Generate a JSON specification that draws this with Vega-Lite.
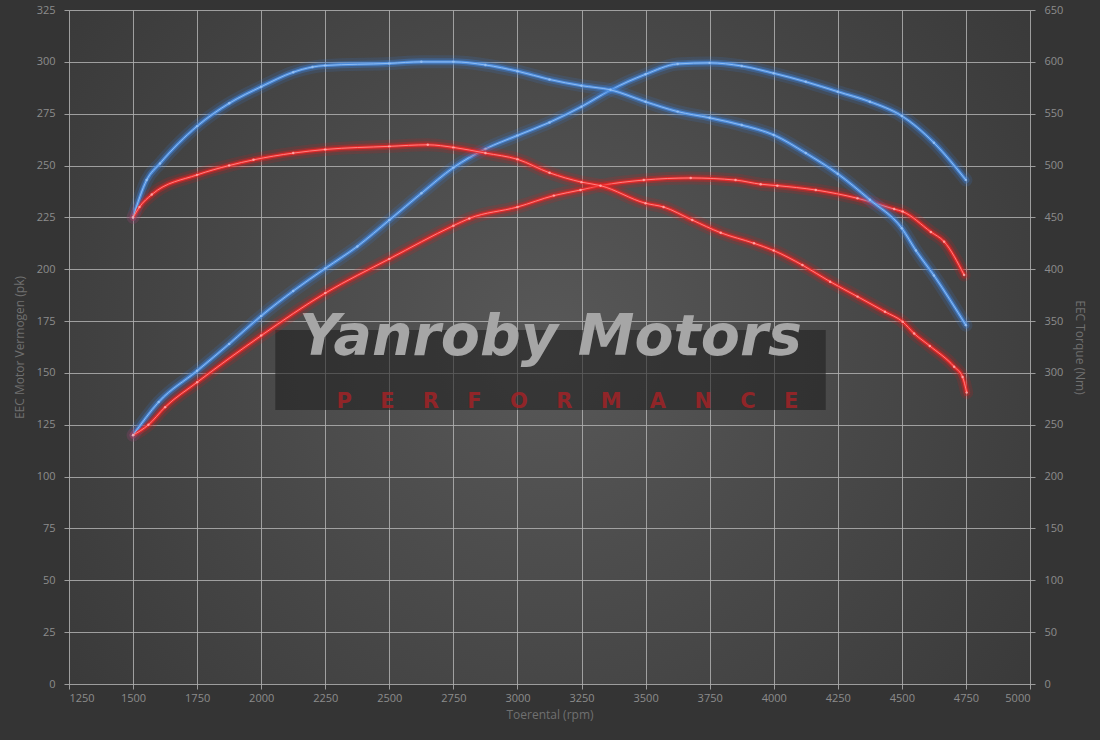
{
  "$schema": "https://vega.github.io/schema/vega-lite/v6.json",
  "width": 961,
  "height": 674,
  "autosize": "none",
  "padding": {"left": 69, "right": 70, "top": 10, "bottom": 56},
  "background": "#343434",
  "config": {
    "view": {
      "stroke": null,
      "fill": {
        "gradient": "radial",
        "x1": 0.5, "y1": 0.5, "r1": 0,
        "x2": 0.5, "y2": 0.5, "r2": 0.75,
        "stops": [
          {"offset": 0, "color": "#585858"},
          {"offset": 1, "color": "#333333"}
        ]
      }
    },
    "axis": {
      "domain": false,
      "gridColor": "#b0b0b0",
      "gridOpacity": 0.85,
      "gridWidth": 1,
      "tickColor": "#b0b0b0",
      "tickOpacity": 0.85,
      "tickSize": 5,
      "labelColor": "#8c8c8c",
      "labelFont": "Open Sans",
      "labelFontSize": 11,
      "titleColor": "#707070",
      "titleFont": "Open Sans",
      "titleFontSize": 12,
      "titleFontWeight": "normal"
    }
  },
  "datasets": {
    "power": [
      {"rpm": 1500, "pk": 120, "tune": "Tuned"},
      {"rpm": 1600, "pk": 136, "tune": "Tuned"},
      {"rpm": 1750, "pk": 151, "tune": "Tuned"},
      {"rpm": 1875, "pk": 164, "tune": "Tuned"},
      {"rpm": 2000, "pk": 177.5, "tune": "Tuned"},
      {"rpm": 2125, "pk": 189.5, "tune": "Tuned"},
      {"rpm": 2250, "pk": 200.4, "tune": "Tuned"},
      {"rpm": 2375, "pk": 211, "tune": "Tuned"},
      {"rpm": 2500, "pk": 223.7, "tune": "Tuned"},
      {"rpm": 2625, "pk": 236.6, "tune": "Tuned"},
      {"rpm": 2750, "pk": 249, "tune": "Tuned"},
      {"rpm": 2875, "pk": 258, "tune": "Tuned"},
      {"rpm": 3000, "pk": 264.5, "tune": "Tuned"},
      {"rpm": 3125, "pk": 270.8, "tune": "Tuned"},
      {"rpm": 3250, "pk": 278.4, "tune": "Tuned"},
      {"rpm": 3363, "pk": 286.4, "tune": "Tuned"},
      {"rpm": 3500, "pk": 294, "tune": "Tuned"},
      {"rpm": 3625, "pk": 299, "tune": "Tuned"},
      {"rpm": 3750, "pk": 299.5, "tune": "Tuned"},
      {"rpm": 3875, "pk": 298, "tune": "Tuned"},
      {"rpm": 4000, "pk": 294.5, "tune": "Tuned"},
      {"rpm": 4125, "pk": 290.4, "tune": "Tuned"},
      {"rpm": 4250, "pk": 285.6, "tune": "Tuned"},
      {"rpm": 4375, "pk": 280.8, "tune": "Tuned"},
      {"rpm": 4500, "pk": 273.9, "tune": "Tuned"},
      {"rpm": 4625, "pk": 261, "tune": "Tuned"},
      {"rpm": 4750, "pk": 243, "tune": "Tuned"},
      {"rpm": 1500, "pk": 120, "tune": "Stock"},
      {"rpm": 1560, "pk": 125, "tune": "Stock"},
      {"rpm": 1625, "pk": 133.5, "tune": "Stock"},
      {"rpm": 1750, "pk": 145.5, "tune": "Stock"},
      {"rpm": 2000, "pk": 168, "tune": "Stock"},
      {"rpm": 2250, "pk": 188.5, "tune": "Stock"},
      {"rpm": 2500, "pk": 205, "tune": "Stock"},
      {"rpm": 2750, "pk": 221, "tune": "Stock"},
      {"rpm": 2812, "pk": 224.5, "tune": "Stock"},
      {"rpm": 3000, "pk": 230, "tune": "Stock"},
      {"rpm": 3142, "pk": 235.5, "tune": "Stock"},
      {"rpm": 3246, "pk": 238.2, "tune": "Stock"},
      {"rpm": 3324, "pk": 240.3, "tune": "Stock"},
      {"rpm": 3493, "pk": 243, "tune": "Stock"},
      {"rpm": 3676, "pk": 244, "tune": "Stock"},
      {"rpm": 3851, "pk": 243, "tune": "Stock"},
      {"rpm": 3949, "pk": 241, "tune": "Stock"},
      {"rpm": 4014, "pk": 240.3, "tune": "Stock"},
      {"rpm": 4164, "pk": 238.2, "tune": "Stock"},
      {"rpm": 4327, "pk": 234.2, "tune": "Stock"},
      {"rpm": 4470, "pk": 229, "tune": "Stock"},
      {"rpm": 4503, "pk": 227.8, "tune": "Stock"},
      {"rpm": 4613, "pk": 218, "tune": "Stock"},
      {"rpm": 4665, "pk": 213.3, "tune": "Stock"},
      {"rpm": 4743, "pk": 197.2, "tune": "Stock"}
    ],
    "torque": [
      {"rpm": 1500, "nm": 450, "tune": "Tuned"},
      {"rpm": 1553, "nm": 486, "tune": "Tuned"},
      {"rpm": 1605, "nm": 502, "tune": "Tuned"},
      {"rpm": 1750, "nm": 538, "tune": "Tuned"},
      {"rpm": 1875, "nm": 560, "tune": "Tuned"},
      {"rpm": 2000, "nm": 576, "tune": "Tuned"},
      {"rpm": 2125, "nm": 590, "tune": "Tuned"},
      {"rpm": 2200, "nm": 595, "tune": "Tuned"},
      {"rpm": 2250, "nm": 596.5, "tune": "Tuned"},
      {"rpm": 2500, "nm": 598.5, "tune": "Tuned"},
      {"rpm": 2625, "nm": 600, "tune": "Tuned"},
      {"rpm": 2750, "nm": 600, "tune": "Tuned"},
      {"rpm": 2875, "nm": 597, "tune": "Tuned"},
      {"rpm": 3000, "nm": 591, "tune": "Tuned"},
      {"rpm": 3125, "nm": 583, "tune": "Tuned"},
      {"rpm": 3250, "nm": 577, "tune": "Tuned"},
      {"rpm": 3363, "nm": 573, "tune": "Tuned"},
      {"rpm": 3500, "nm": 561.5, "tune": "Tuned"},
      {"rpm": 3625, "nm": 552, "tune": "Tuned"},
      {"rpm": 3750, "nm": 546, "tune": "Tuned"},
      {"rpm": 3875, "nm": 539, "tune": "Tuned"},
      {"rpm": 4000, "nm": 529.5, "tune": "Tuned"},
      {"rpm": 4125, "nm": 512, "tune": "Tuned"},
      {"rpm": 4250, "nm": 492, "tune": "Tuned"},
      {"rpm": 4375, "nm": 467, "tune": "Tuned"},
      {"rpm": 4500, "nm": 439.5, "tune": "Tuned"},
      {"rpm": 4555, "nm": 418, "tune": "Tuned"},
      {"rpm": 4625, "nm": 394, "tune": "Tuned"},
      {"rpm": 4750, "nm": 346, "tune": "Tuned"},
      {"rpm": 1500, "nm": 450, "tune": "Stock"},
      {"rpm": 1525, "nm": 460, "tune": "Stock"},
      {"rpm": 1573, "nm": 472, "tune": "Stock"},
      {"rpm": 1750, "nm": 491, "tune": "Stock"},
      {"rpm": 1875, "nm": 500, "tune": "Stock"},
      {"rpm": 1970, "nm": 505.5, "tune": "Stock"},
      {"rpm": 2125, "nm": 512, "tune": "Stock"},
      {"rpm": 2250, "nm": 515.5, "tune": "Stock"},
      {"rpm": 2500, "nm": 518.5, "tune": "Stock"},
      {"rpm": 2650, "nm": 520, "tune": "Stock"},
      {"rpm": 2750, "nm": 517.5, "tune": "Stock"},
      {"rpm": 2875, "nm": 512, "tune": "Stock"},
      {"rpm": 3000, "nm": 506, "tune": "Stock"},
      {"rpm": 3125, "nm": 493, "tune": "Stock"},
      {"rpm": 3250, "nm": 484, "tune": "Stock"},
      {"rpm": 3324, "nm": 480.6, "tune": "Stock"},
      {"rpm": 3500, "nm": 463.6, "tune": "Stock"},
      {"rpm": 3570, "nm": 460, "tune": "Stock"},
      {"rpm": 3682, "nm": 447.4, "tune": "Stock"},
      {"rpm": 3793, "nm": 435.2, "tune": "Stock"},
      {"rpm": 3923, "nm": 425, "tune": "Stock"},
      {"rpm": 4000, "nm": 418, "tune": "Stock"},
      {"rpm": 4112, "nm": 404, "tune": "Stock"},
      {"rpm": 4220, "nm": 388, "tune": "Stock"},
      {"rpm": 4327, "nm": 373.6, "tune": "Stock"},
      {"rpm": 4434, "nm": 359, "tune": "Stock"},
      {"rpm": 4503, "nm": 349.4, "tune": "Stock"},
      {"rpm": 4548, "nm": 338, "tune": "Stock"},
      {"rpm": 4609, "nm": 326, "tune": "Stock"},
      {"rpm": 4704, "nm": 306, "tune": "Stock"},
      {"rpm": 4737, "nm": 296, "tune": "Stock"},
      {"rpm": 4753, "nm": 281, "tune": "Stock"}
    ]
  },
  "layer": [
    {
      "layer": [
        {
          "data": {"values": [{}]},
          "mark": {"type": "rect", "fill": "#222222", "opacity": 0.6},
          "encoding": {
            "x": {"datum": 2055, "type": "quantitative", "scale": {"domain": [1250, 5000], "nice": false}, "axis": {"values": [1250,1500,1750,2000,2250,2500,2750,3000,3250,3500,3750,4000,4250,4500,4750,5000], "format": "d", "title": "Toerental (rpm)", "labelPadding": 3, "titlePadding": 6, "grid": true}},
            "x2": {"datum": 4203},
            "y": {"datum": 170.7, "type": "quantitative", "scale": {"domain": [0, 325], "nice": false}, "axis": {"values": [0,25,50,75,100,125,150,175,200,225,250,275,300,325], "title": "EEC Motor Vermogen (pk)", "orient": "left", "labelPadding": 9, "titlePadding": 10, "grid": true}},
            "y2": {"datum": 132.1}
          }
        },
        {
          "data": {"values": [{}]},
          "mark": {"type": "text", "text": "Yanroby Motors", "font": "DejaVu Sans", "fontSize": 57, "fontWeight": "bold", "fontStyle": "italic", "fill": "#a6a6a6", "align": "center", "baseline": "alphabetic"},
          "encoding": {
            "x": {"datum": 3129, "type": "quantitative"},
            "y": {"datum": 158.6, "type": "quantitative"}
          }
        },
        {
          "data": {"values": [{}]},
          "mark": {"type": "text", "text": "P\u2003 E\u2003 R\u2003 F\u2003 O\u2003 R\u2003 M\u2003 A\u2003 N\u2003 C\u2003 E", "font": "DejaVu Sans", "fontSize": 21, "fontWeight": "bold", "fill": "#a82226", "opacity": 0.8, "align": "center", "baseline": "alphabetic"},
          "encoding": {
            "x": {"datum": 3195, "type": "quantitative"},
            "y": {"datum": 133.1, "type": "quantitative"}
          }
        },
        {
          "data": {"name": "power"},
          "mark": {"type": "line", "interpolate": "monotone", "strokeWidth": 13, "opacity": 0.16, "strokeCap": "round"},
          "encoding": {
            "x": {"field": "rpm", "type": "quantitative"},
            "y": {"field": "pk", "type": "quantitative"},
            "color": {"field": "tune", "type": "nominal", "scale": {"domain": ["Tuned", "Stock"], "range": ["#3a7fd8", "#e01818"]}, "legend": null}
          }
        },
        {
          "data": {"name": "power"},
          "mark": {"type": "line", "interpolate": "monotone", "strokeWidth": 7, "opacity": 0.35, "strokeCap": "round"},
          "encoding": {
            "x": {"field": "rpm", "type": "quantitative"},
            "y": {"field": "pk", "type": "quantitative"},
            "color": {"field": "tune", "type": "nominal", "scale": {"domain": ["Tuned", "Stock"], "range": ["#3a82dc", "#e81c1c"]}, "legend": null}
          }
        },
        {
          "data": {"name": "power"},
          "mark": {"type": "line", "interpolate": "monotone", "strokeWidth": 3.2, "opacity": 0.85},
          "encoding": {
            "x": {"field": "rpm", "type": "quantitative"},
            "y": {"field": "pk", "type": "quantitative"},
            "color": {"field": "tune", "type": "nominal", "scale": {"domain": ["Tuned", "Stock"], "range": ["#4f92e6", "#f42a2a"]}, "legend": null}
          }
        },
        {
          "data": {"name": "power"},
          "mark": {"type": "line", "interpolate": "monotone", "strokeWidth": 1},
          "encoding": {
            "x": {"field": "rpm", "type": "quantitative"},
            "y": {"field": "pk", "type": "quantitative"},
            "color": {"field": "tune", "type": "nominal", "scale": {"domain": ["Tuned", "Stock"], "range": ["#8ebcf2", "#ff8080"]}, "legend": null}
          }
        },
        {
          "data": {"name": "power"},
          "mark": {"type": "point", "filled": true, "size": 6, "opacity": 0.8},
          "encoding": {
            "x": {"field": "rpm", "type": "quantitative"},
            "y": {"field": "pk", "type": "quantitative"},
            "color": {"field": "tune", "type": "nominal", "scale": {"domain": ["Tuned", "Stock"], "range": ["#9cc4f4", "#ffb0b0"]}, "legend": null}
          }
        }
      ],
      "resolve": {"scale": {"color": "independent"}}
    },
    {
      "data": {"name": "torque"},
      "layer": [
        {
          "mark": {"type": "line", "interpolate": "monotone", "strokeWidth": 13, "opacity": 0.16, "strokeCap": "round"},
          "encoding": {
            "x": {"field": "rpm", "type": "quantitative", "scale": {"domain": [1250, 5000], "nice": false}, "axis": {"values": [1250,1500,1750,2000,2250,2500,2750,3000,3250,3500,3750,4000,4250,4500,4750,5000], "format": "d", "title": "Toerental (rpm)", "labelPadding": 3, "titlePadding": 6, "grid": true}},
            "y": {"field": "nm", "type": "quantitative", "scale": {"domain": [0, 650], "nice": false}, "axis": {"values": [0,50,100,150,200,250,300,350,400,450,500,550,600,650], "title": "EEC Torque (Nm)", "orient": "right", "labelPadding": 9, "titlePadding": 10, "grid": false}},
            "color": {"field": "tune", "type": "nominal", "scale": {"domain": ["Tuned", "Stock"], "range": ["#3a7fd8", "#e01818"]}, "legend": null}
          }
        },
        {
          "mark": {"type": "line", "interpolate": "monotone", "strokeWidth": 7, "opacity": 0.35, "strokeCap": "round"},
          "encoding": {
            "x": {"field": "rpm", "type": "quantitative"},
            "y": {"field": "nm", "type": "quantitative"},
            "color": {"field": "tune", "type": "nominal", "scale": {"domain": ["Tuned", "Stock"], "range": ["#3a82dc", "#e81c1c"]}, "legend": null}
          }
        },
        {
          "mark": {"type": "line", "interpolate": "monotone", "strokeWidth": 3.2, "opacity": 0.85},
          "encoding": {
            "x": {"field": "rpm", "type": "quantitative"},
            "y": {"field": "nm", "type": "quantitative"},
            "color": {"field": "tune", "type": "nominal", "scale": {"domain": ["Tuned", "Stock"], "range": ["#4f92e6", "#f42a2a"]}, "legend": null}
          }
        },
        {
          "mark": {"type": "line", "interpolate": "monotone", "strokeWidth": 1},
          "encoding": {
            "x": {"field": "rpm", "type": "quantitative"},
            "y": {"field": "nm", "type": "quantitative"},
            "color": {"field": "tune", "type": "nominal", "scale": {"domain": ["Tuned", "Stock"], "range": ["#8ebcf2", "#ff8080"]}, "legend": null}
          }
        },
        {
          "mark": {"type": "point", "filled": true, "size": 6, "opacity": 0.8},
          "encoding": {
            "x": {"field": "rpm", "type": "quantitative"},
            "y": {"field": "nm", "type": "quantitative"},
            "color": {"field": "tune", "type": "nominal", "scale": {"domain": ["Tuned", "Stock"], "range": ["#9cc4f4", "#ffb0b0"]}, "legend": null}
          }
        }
      ],
      "resolve": {"scale": {"color": "independent"}}
    }
  ],
  "resolve": {"scale": {"y": "independent", "color": "independent"}}
}
